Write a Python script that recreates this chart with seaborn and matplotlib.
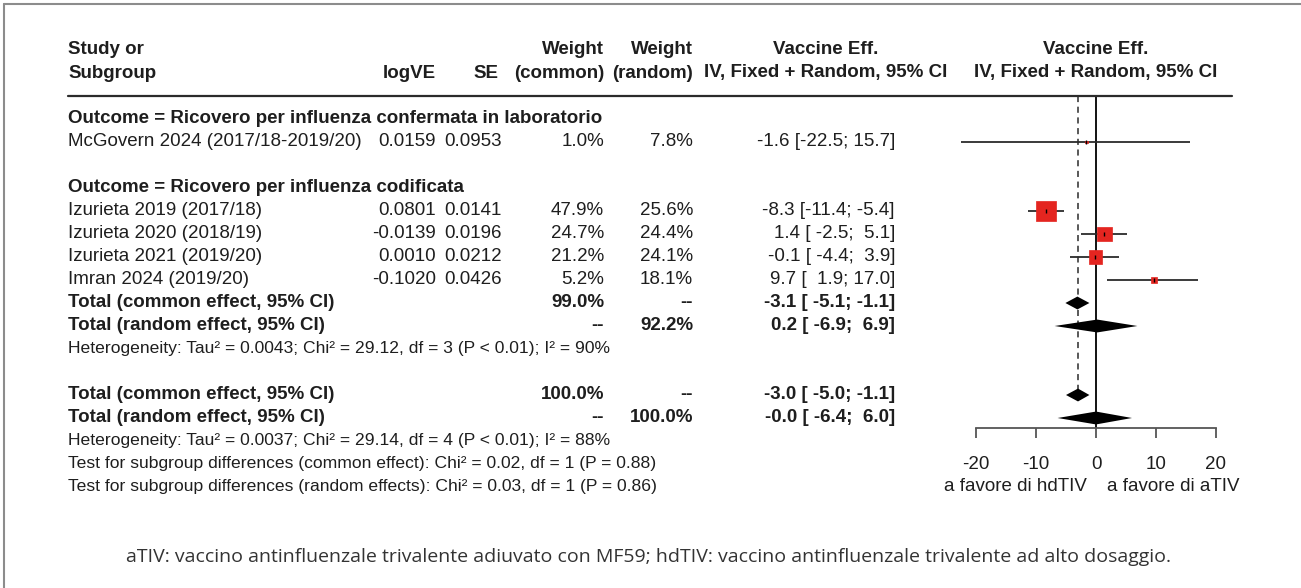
import numpy as np
import matplotlib
matplotlib.use("Agg")
import matplotlib.pyplot as plt
import matplotlib.transforms as mtransforms
from matplotlib.lines import Line2D
import seaborn as sns

# ---------------- data ----------------
group_titles = ["Outcome = Ricovero per influenza confermata in laboratorio",
                "Outcome = Ricovero per influenza codificata"]
studies = ["McGovern 2024 (2017/18-2019/20)", "Izurieta 2019 (2017/18)",
           "Izurieta 2020 (2018/19)", "Izurieta 2021 (2019/20)", "Imran 2024 (2019/20)"]
study_group = [0, 1, 1, 1, 1]
log_ve = [0.0159, 0.0801, -0.0139, 0.0010, -0.1020]
se = [0.0953, 0.0141, 0.0196, 0.0212, 0.0426]
weight_common = [1.0, 47.9, 24.7, 21.2, 5.2]
weight_random = [7.8, 25.6, 24.4, 24.1, 18.1]
ve_est = [-1.6, -8.3, 1.4, -0.1, 9.7]
ve_lo = [-22.5, -11.4, -2.5, -4.4, 1.9]
ve_hi = [15.7, -5.4, 5.1, 3.9, 17.0]

total_labels = ["Total (common effect, 95% CI)", "Total (random effect, 95% CI)"]
sub_wc = [99.0, np.nan]
sub_wr = [np.nan, 92.2]
sub_est = [-3.1, 0.2]
sub_lo = [-5.1, -6.9]
sub_hi = [-1.1, 6.9]
sub_het = "Heterogeneity: Tau² = 0.0043; Chi² = 29.12, df = 3 (P < 0.01); I² = 90%"

all_wc = [100.0, np.nan]
all_wr = [np.nan, 100.0]
all_est = [-3.0, -0.0]
all_lo = [-5.0, -6.4]
all_hi = [-1.1, 6.0]
all_het = "Heterogeneity: Tau² = 0.0037; Chi² = 29.14, df = 4 (P < 0.01); I² = 88%"
tests = ["Test for subgroup differences (common effect): Chi² = 0.02, df = 1 (P = 0.88)",
         "Test for subgroup differences (random effects): Chi² = 0.03, df = 1 (P = 0.86)"]

x_ticks = [-20, -10, 0, 10, 20]
label_left = "a favore di hdTIV"
label_right = "a favore di aTIV"
footnote = ("aTIV: vaccino antinfluenzale trivalente adiuvato con MF59; "
            "hdTIV: vaccino antinfluenzale trivalente ad alto dosaggio.")

# ---------------- style ----------------
sns.set_style("white")
plt.rcParams['font.family'] = ['Liberation Sans', 'DejaVu Sans']
plt.rcParams['axes.unicode_minus'] = False

W, H = 1301, 588
FS = 13.5
FSH = 12.6
TXT = "#1e1e1e"
RED = "#E42520"
LINE = "#2b2b2b"

fig = plt.figure(figsize=(W / 100, H / 100), dpi=100)
fig.patch.set_facecolor("white")
ax = fig.add_axes([0, 0, 1, 1])


def row(p):
    return (p - 119) / 23.0


ax.set_ylim(row(H), row(0))
ax.set_xlim(-20 - 976 / 6.0, 20 + (W - 1216) / 6.0)

tr = mtransforms.blended_transform_factory(fig.transFigure, ax.transData)


def put(px, r, s, ha="left", bold=False, size=FS, color=TXT):
    ax.text(px / W, r, s, transform=tr, ha=ha, va="center", fontsize=size,
            fontweight="bold" if bold else "normal", color=color)


def pct(v):
    return "--" if np.isnan(v) else f"{v:.1f}%"


def ci(e, l, h):
    return f"{e:.1f} [{l:5.1f}; {h:4.1f}]"


X_STUDY, X_LOG, X_SE, X_WC, X_WR, X_VE, X_VEH, X_FH = 68, 436, 502, 604, 693, 895, 826, 1096

# header
put(X_STUDY, -3, "Study or", bold=True)
put(X_STUDY, -2, "Subgroup", bold=True)
put(X_LOG, -2, "logVE", ha="right", bold=True)
put(X_SE - 4, -2, "SE", ha="right", bold=True)
put(X_WC, -3, "Weight", ha="right", bold=True)
put(X_WC, -2, "(common)", ha="right", bold=True)
put(X_WR, -3, "Weight", ha="right", bold=True)
put(X_WR, -2, "(random)", ha="right", bold=True)
put(X_VEH, -3, "Vaccine Eff.", ha="center", bold=True)
put(X_VEH, -2, "IV, Fixed + Random, 95% CI", ha="center", bold=True)
put(X_FH, -3, "Vaccine Eff.", ha="center", bold=True)
put(X_FH, -2, "IV, Fixed + Random, 95% CI", ha="center", bold=True)
ax.plot([68 / W, 1232 / W], [-1, -1], transform=tr, color=LINE, lw=1.6, clip_on=False)

# layout of rows
r = 0
study_rows = []
for g, title in enumerate(group_titles):
    put(X_STUDY, r, title, bold=True)
    r += 1
    for i, s in enumerate(studies):
        if study_group[i] == g:
            study_rows.append(r)
            put(X_STUDY, r, s)
            put(X_LOG, r, f"{log_ve[i]:.4f}", ha="right")
            put(X_SE, r, f"{se[i]:.4f}", ha="right")
            put(X_WC, r, pct(weight_common[i]), ha="right")
            put(X_WR, r, pct(weight_random[i]), ha="right")
            put(X_VE, r, ci(ve_est[i], ve_lo[i], ve_hi[i]), ha="right")
            r += 1
    if g == 0:
        r += 1
sub_rows = [r, r + 1]
for k in range(2):
    put(X_STUDY, sub_rows[k], total_labels[k], bold=True)
    put(X_WC, sub_rows[k], pct(sub_wc[k]), ha="right", bold=True)
    put(X_WR, sub_rows[k], pct(sub_wr[k]), ha="right", bold=True)
    put(X_VE, sub_rows[k], ci(sub_est[k], sub_lo[k], sub_hi[k]), ha="right", bold=True)
r += 2
put(X_STUDY, r, sub_het, size=FSH)
r += 2
all_rows = [r, r + 1]
for k in range(2):
    put(X_STUDY, all_rows[k], total_labels[k], bold=True)
    put(X_WC, all_rows[k], pct(all_wc[k]), ha="right", bold=True)
    put(X_WR, all_rows[k], pct(all_wr[k]), ha="right", bold=True)
    put(X_VE, all_rows[k], ci(all_est[k], all_lo[k], all_hi[k]), ha="right", bold=True)
r += 2
put(X_STUDY, r, all_het, size=FSH)
put(X_STUDY, r + 1, tests[0], size=FSH)
put(X_STUDY, r + 2, tests[1], size=FSH)

# ---------------- forest ----------------
axis_row = row(428)
ax.vlines(0, -1, axis_row, color="black", lw=1.3, zorder=1)
ax.vlines(all_est[0], -1, all_rows[0] - 0.28, color=LINE, lw=1.1,
          linestyles=(0, (4, 3)), zorder=1)
ax.hlines(study_rows, ve_lo, ve_hi, color=LINE, lw=1.3, zorder=2)

k_area = (20 * 0.72) ** 2 / max(weight_common)
sns.scatterplot(x=ve_est, y=study_rows, size=weight_common,
                sizes=(k_area * min(weight_common), k_area * max(weight_common)),
                size_norm=(min(weight_common), max(weight_common)),
                marker="s", color=RED, edgecolor=RED, linewidth=0.5,
                legend=False, ax=ax, zorder=3)
ax.scatter(ve_est, study_rows, marker="|", s=12, color="black", lw=1.0, zorder=4)

hd = 0.28
for rows_, e_, l_, h_ in ((sub_rows, sub_est, sub_lo, sub_hi), (all_rows, all_est, all_lo, all_hi)):
    for k in range(2):
        y0 = rows_[k]
        ax.fill([l_[k], e_[k], h_[k], e_[k]], [y0, y0 - hd, y0, y0 + hd],
                color="black", lw=0, zorder=3)

ax.set_xlabel("")
ax.set_ylabel("")
ax.set_yticks([])
ax.set_xticks(x_ticks)
ax.set_xticklabels([str(t) for t in x_ticks])
for s in ("left", "right", "top"):
    ax.spines[s].set_visible(False)
ax.spines["bottom"].set_position(("data", axis_row))
ax.spines["bottom"].set_bounds(x_ticks[0], x_ticks[-1])
ax.spines["bottom"].set_color("#555555")
ax.spines["bottom"].set_linewidth(1.3)
ax.tick_params(axis="x", bottom=True, top=False, direction="out", length=7.5, width=1.3,
               color="#555555", labelsize=FS, pad=13, labelcolor=TXT)
ax.set_facecolor("none")

put(1087, r + 2, label_left, ha="right")
put(1107, r + 2, label_right, ha="left")

# footnote and frame
fig.text(648 / W, 1 - 557 / H, footnote, ha="center", va="center", fontsize=14,
         family=["Open Sans", "DejaVu Sans"], color="#333333")
fig.add_artist(Line2D([4 / W, 4 / W], [0, 1 - 4 / H], transform=fig.transFigure,
                      color="#8c8c8c", lw=1.5))
fig.add_artist(Line2D([4 / W, 1], [1 - 4 / H, 1 - 4 / H], transform=fig.transFigure,
                      color="#8c8c8c", lw=1.5))

fig.savefig("out.png", dpi=100, facecolor="white")
